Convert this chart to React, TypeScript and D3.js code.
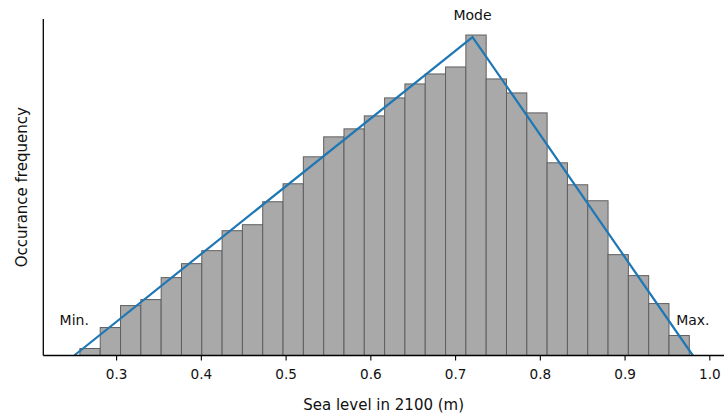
import React from "react";
import * as d3 from "d3";

// Histogram of simulated sea level in 2100 (arbitrary frequency units)
const binStart = 0.2567;
const binWidth = 0.02397;
const counts = [
  7, 28, 50, 56, 78, 92, 105, 125, 131, 154, 172, 199, 219, 227, 240,
  258, 272, 282, 289, 321, 277, 263, 243, 193, 171, 155, 101, 80, 52, 20,
];

// Triangular distribution outline
const triX = [0.25, 0.72, 0.98];
const triY = [0, 319, 0];
const triLabels = ["Min.", "Mode", "Max."];

const xTicks = [0.3, 0.4, 0.5, 0.6, 0.7, 0.8, 0.9, 1.0];
const xLabel = "Sea level in 2100 (m)";
const yLabel = "Occurance frequency";

const W = 724;
const H = 417;
const FONT = "DejaVu Sans, sans-serif";

export default function App() {
  const margin = 0.0365;
  const x = d3
    .scaleLinear()
    .domain([triX[0] - margin, triX[2] + margin])
    .range([43.3, 723.8]);
  const yMax = (d3.max(counts) as number) * 1.05;
  const y = d3.scaleLinear().domain([0, yMax]).range([355.5, 19]);

  const bins = counts.map((c, i) => ({
    x0: binStart + i * binWidth,
    x1: binStart + (i + 1) * binWidth,
    c,
  }));

  const line = d3
    .line<number>()
    .x((_, i) => x(triX[i]))
    .y((d) => y(d));

  const labelY = [y(0) - 30.5, y(triY[1]) - 17, y(0) - 30.5];

  return (
    <svg
      width={W}
      height={H}
      style={{ position: "absolute", left: 0, top: 0, background: "#fff" }}
      fontFamily={FONT}
    >
      <g>
        {bins.map((b, i) => (
          <rect
            key={i}
            x={x(b.x0)}
            y={y(b.c)}
            width={x(b.x1) - x(b.x0)}
            height={y(0) - y(b.c)}
            fill="#a9a9a9"
            stroke="#5f5f5f"
            strokeWidth={1}
          />
        ))}
      </g>
      <path
        d={line(triY) || ""}
        fill="none"
        stroke="#1f77b4"
        strokeWidth={2.2}
      />
      {triLabels.map((t, i) => (
        <text
          key={t}
          x={x(triX[i])}
          y={labelY[i]}
          textAnchor="middle"
          fontSize={14}
          fill="#111"
        >
          {t}
        </text>
      ))}
      {/* spines */}
      <line x1={43.3} x2={43.3} y1={19} y2={355.5} stroke="#000" strokeWidth={1.3} />
      <line x1={43.3} x2={W} y1={355.5} y2={355.5} stroke="#000" strokeWidth={1.3} />
      {xTicks.map((t) => (
        <g key={t} transform={`translate(${x(t)},355.5)`}>
          <line y1={0} y2={5} stroke="#000" strokeWidth={1.1} />
          <text y={23.5} textAnchor="middle" fontSize={13.6} fill="#111">
            {t.toFixed(1)}
          </text>
        </g>
      ))}
      <text
        x={(43.3 + W) / 2}
        y={409.5}
        textAnchor="middle"
        fontSize={15}
        fill="#111"
      >
        {xLabel}
      </text>
      <text
        transform={`translate(26.5,${(19 + 355.5) / 2}) rotate(-90)`}
        textAnchor="middle"
        fontSize={15}
        fill="#111"
      >
        {yLabel}
      </text>
    </svg>
  );
}
